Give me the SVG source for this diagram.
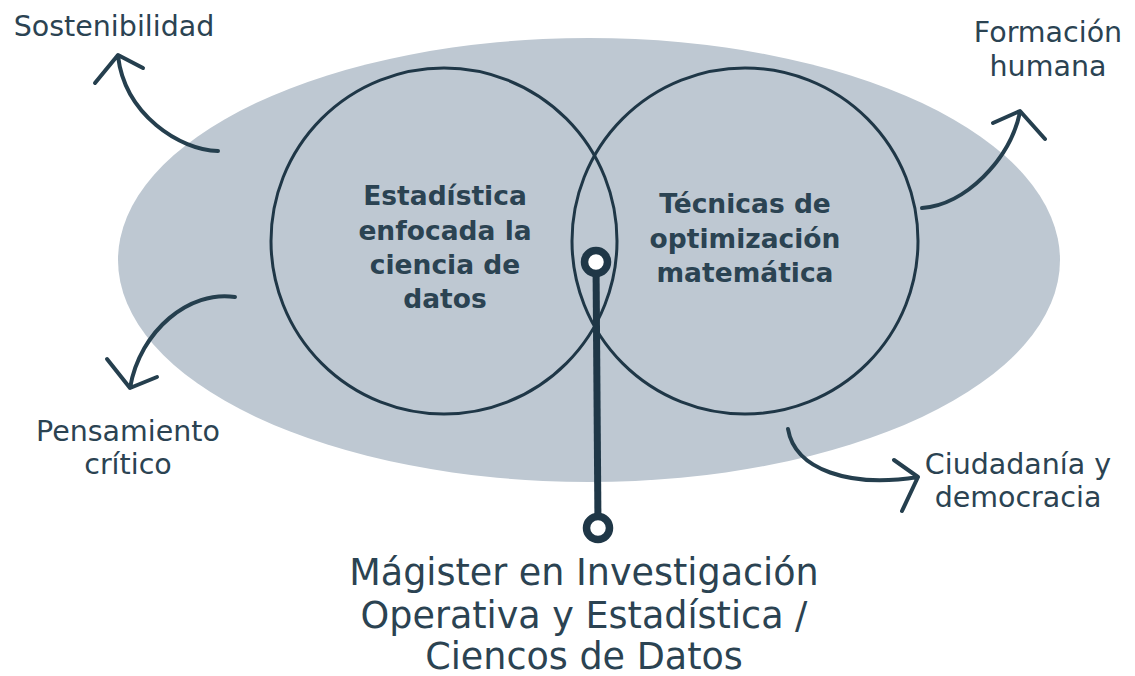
<svg xmlns="http://www.w3.org/2000/svg" width="1135" height="676" viewBox="0 0 1135 676">
<style>
.lbl{font-family:"DejaVu Sans",sans-serif;font-size:28.5px;fill:#2b4352;text-anchor:middle}
.in{font-family:"DejaVu Sans",sans-serif;font-weight:bold;font-size:26.5px;fill:#2b4352;text-anchor:middle}
.big{font-family:"DejaVu Sans",sans-serif;font-size:36.5px;fill:#2b4352;text-anchor:middle}
.arr{fill:none;stroke:#253f4e;stroke-width:4;stroke-linecap:round;stroke-linejoin:round}
.ring{fill:none;stroke:#1f3747;stroke-width:3}
</style>
<rect width="1135" height="676" fill="#ffffff"/>
<g id="outer">
<ellipse cx="589" cy="260" rx="471" ry="222" fill="#bec8d2"/>
</g>
<g id="estadistica">
<circle class="ring" cx="444" cy="241" r="173"/>
<text class="in" x="445" y="205">Estadística</text>
<text class="in" x="445" y="240">enfocada la</text>
<text class="in" x="445" y="274">ciencia de</text>
<text class="in" x="445" y="308">datos</text>
</g>
<g id="tecnicas">
<circle class="ring" cx="745" cy="241" r="173"/>
<text class="in" x="745" y="213">Técnicas de</text>
<text class="in" x="745" y="248">optimización</text>
<text class="in" x="745" y="282">matemática</text>
</g>
<g id="connectors">
<path class="arr" d="M218,151 C180,150 125,115 118,56 M95,83 L118,55 L143,68"/>
<path class="arr" d="M922,208 C965,205 1010,160 1020,112 M993,123 L1020,111 L1045,139"/>
<path class="arr" d="M235,297 C190,290 140,330 130,388 M107,359 L130,388 L157,377"/>
<path class="arr" d="M788,429 C795,470 850,488 918,477 M894,460 L918,477 L902,511"/>
<line x1="596" y1="262" x2="598" y2="528" stroke="#1f3747" stroke-width="7"/>
<circle cx="596" cy="262" r="11.5" fill="#ffffff" stroke="#1f3747" stroke-width="7.5"/>
<circle cx="598" cy="528" r="11.5" fill="#ffffff" stroke="#1f3747" stroke-width="7.5"/>
</g>
<g id="sostenibilidad"><text class="lbl" x="114" y="36">Sostenibilidad</text></g>
<g id="formacion"><text class="lbl" x="1048" y="42">Formación</text><text class="lbl" x="1048" y="76">humana</text></g>
<g id="pensamiento"><text class="lbl" x="128" y="441">Pensamiento</text><text class="lbl" x="128" y="474">crítico</text></g>
<g id="ciudadania"><text class="lbl" x="1018" y="474">Ciudadanía y</text><text class="lbl" x="1018" y="507">democracia</text></g>
<g id="magister">
<text class="big" x="584" y="585">Mágister en Investigación</text>
<text class="big" x="584" y="628">Operativa y Estadística /</text>
<text class="big" x="584" y="669">Ciencos de Datos</text>
</g>
</svg>
